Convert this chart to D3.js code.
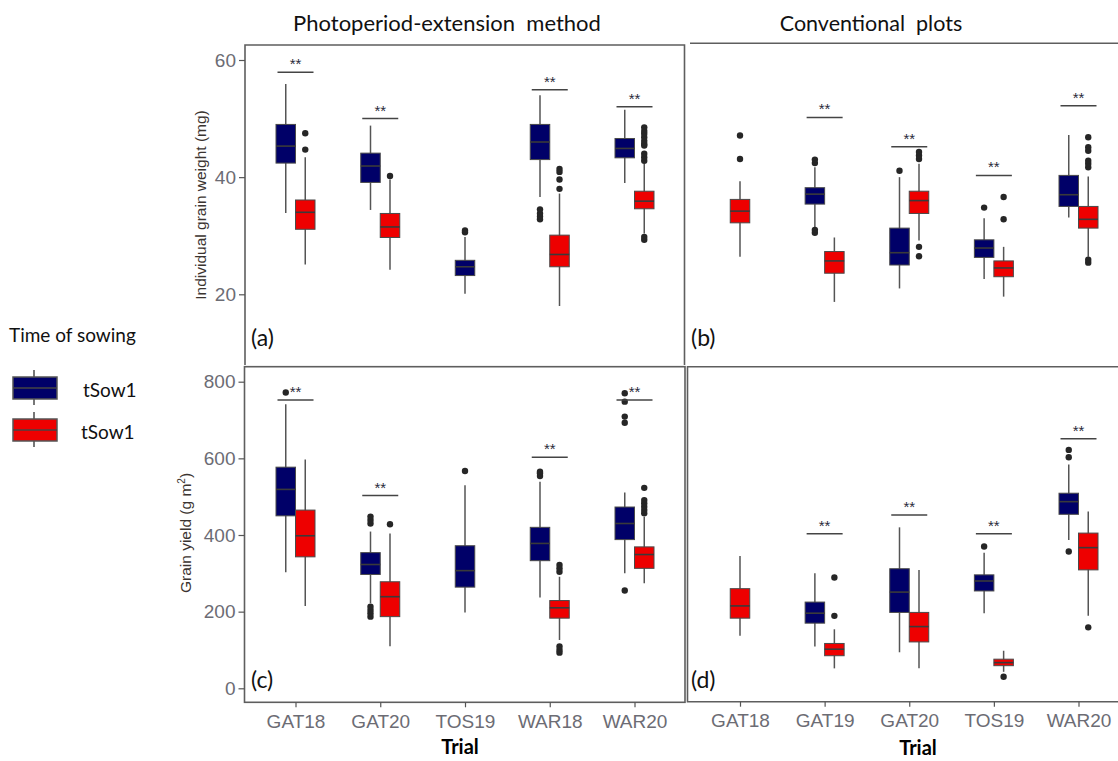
<!DOCTYPE html>
<html>
<head>
<meta charset="utf-8">
<script src="https://cdn.jsdelivr.net/npm/d3@7"></script>
<style>
  body { margin: 0; background: #fff; }
  svg { display: block; }
</style>
</head>
<body>
<svg id="chart"></svg>
<script>
// trials (x categories) for each column
const trialsPE = ["GAT18", "GAT20", "TOS19", "WAR18", "WAR20"];
const trialsConv = ["GAT18", "GAT19", "GAT20", "TOS19", "WAR20"];
const sowLabels = ["tSow1", "tSow1"];
const weightTicks = [20, 40, 60];
const yieldTicks = [0, 200, 400, 600, 800];

// box stats: [trial, sowing, lower whisker, q1, median, q3, upper whisker, outliers]
const weightPE = [
  ["GAT18", 1, 33.9, 42.4, 45.3, 49.0, 55.9, []],
  ["GAT18", 2, 25.1, 31.1, 34.0, 36.1, 43.4, [44.7, 47.5]],
  ["GAT20", 1, 34.4, 39.1, 41.9, 44.1, 48.8, []],
  ["GAT20", 2, 24.2, 29.7, 31.5, 33.8, 39.6, [40.2]],
  ["TOS19", 1, 20.1, 23.2, 24.7, 25.8, 29.8, [30.6, 30.9]],
  ["WAR18", 1, 36.6, 43.0, 46.0, 49.0, 54.0, [32.8, 33.3, 33.8, 34.5]],
  ["WAR18", 2, 18.0, 24.7, 26.8, 30.1, 37.2, [38.0, 39.6, 40.9, 41.4]],
  ["WAR20", 1, 39.0, 43.3, 44.9, 46.6, 51.5, []],
  ["WAR20", 2, 30.4, 34.6, 35.9, 37.6, 42.3, [29.3, 29.8, 42.8, 43.4, 44.0, 45.4, 45.7, 46.2, 46.8, 47.4, 47.9, 48.5]]
];
const weightConv = [
  ["GAT18", 2, 26.4, 32.2, 34.2, 36.2, 39.3, [43.1, 47.1]],
  ["GAT19", 1, 31.5, 35.4, 37.1, 38.2, 41.7, [30.5, 31.0, 42.4, 43.0]],
  ["GAT19", 2, 18.7, 23.6, 25.7, 27.3, 29.7, []],
  ["GAT20", 1, 21.0, 25.0, 27.1, 31.3, 40.0, [41.1]],
  ["GAT20", 2, 29.2, 33.8, 36.0, 37.6, 42.3, [26.5, 28.1, 43.1, 43.7, 44.3]],
  ["TOS19", 1, 22.6, 26.3, 27.9, 29.3, 33.0, [34.8]],
  ["TOS19", 2, 19.6, 23.0, 24.5, 25.7, 28.1, [32.8, 36.6]],
  ["WAR20", 1, 33.1, 35.0, 37.0, 40.3, 47.2, []],
  ["WAR20", 2, 26.4, 31.3, 32.8, 35.0, 40.1, [25.4, 25.9, 41.7, 42.3, 42.8, 44.5, 45.1, 46.8]]
];
const yieldPE = [
  ["GAT18", 1, 303, 450, 519, 577, 741, [772]],
  ["GAT18", 2, 215, 343, 398, 465, 597, []],
  ["GAT20", 1, 222, 297, 323, 354, 409, [187, 196, 204, 213, 430, 439, 448]],
  ["GAT20", 2, 110, 187, 239, 278, 404, [428]],
  ["TOS19", 1, 198, 264, 307, 372, 530, [567]],
  ["WAR18", 1, 237, 333, 378, 420, 539, [554, 561, 565]],
  ["WAR18", 2, 126, 183, 210, 229, 291, [93, 100, 109, 304, 313, 322]],
  ["WAR20", 1, 300, 388, 430, 473, 511, [255, 693, 709, 748, 770]],
  ["WAR20", 2, 274, 313, 349, 369, 448, [457, 465, 474, 483, 491, 523]]
];
const yieldConv = [
  ["GAT18", 2, 137, 183, 215, 260, 345, []],
  ["GAT19", 1, 109, 170, 196, 225, 300, []],
  ["GAT19", 2, 52, 85, 102, 117, 154, [189, 289]],
  ["GAT20", 1, 94, 198, 251, 312, 420, []],
  ["GAT20", 2, 52, 121, 161, 198, 309, []],
  ["TOS19", 1, 196, 254, 280, 296, 354, [370]],
  ["TOS19", 2, 43, 59, 67, 76, 98, [30]],
  ["WAR20", 1, 387, 454, 487, 509, 584, [357, 603, 622]],
  ["WAR20", 2, 189, 309, 367, 405, 461, [159]]
];

// significance bars: [trial, height]
const sigWeightPE = [["GAT18", 57.9], ["GAT20", 50.0], ["WAR18", 54.9], ["WAR20", 52.0]];
const sigWeightConv = [["GAT19", 50.2], ["GAT20", 45.2], ["TOS19", 40.3], ["WAR20", 52.2]];
const sigYieldPE = [["GAT18", 752], ["GAT20", 503], ["WAR18", 603], ["WAR20", 752]];
const sigYieldConv = [["GAT19", 403], ["GAT20", 452], ["TOS19", 403], ["WAR20", 651]];

const width = 1118, height = 761;
const colors = {1: "#000068", 2: "#ee0000"};
const frame = "#5e5e5e";

const svg = d3.select("#chart")
  .attr("width", width)
  .attr("height", height)
  .style("font-family", "'Liberation Sans', Arial, sans-serif");

// scales
const yWeight = d3.scaleLinear().domain([20, 60]).range([294.3, 60]);
const yYield = d3.scaleLinear().domain([0, 800]).range([688.3, 381.7]);
const xLeft = d3.scalePoint().domain(trialsPE).range([295.5, 634.5]);
const xRight = d3.scalePoint().domain(trialsConv).range([740, 1078.5]);
const dodge = d3.scaleBand().domain([1, 2]).range([-19.5, 19.5]);
const boxW = dodge.bandwidth();

function drawBoxes(data, sig, x, y) {
  const g = svg.append("g");
  const counts = d3.rollup(data, v => v.length, d => d[0]);
  const cx = d => x(d[0]) + (counts.get(d[0]) > 1 ? dodge(d[1]) + boxW / 2 : 0);

  const box = g.selectAll("g.box").data(data).join("g").attr("class", "box");
  // whiskers
  box.append("line")
    .attr("x1", cx).attr("x2", cx)
    .attr("y1", d => y(d[2])).attr("y2", d => y(d[6]))
    .attr("stroke", "#555").attr("stroke-width", 1.5);
  box.append("rect")
    .attr("x", d => cx(d) - boxW / 2)
    .attr("width", boxW)
    .attr("y", d => y(d[5]))
    .attr("height", d => y(d[3]) - y(d[5]))
    .attr("fill", d => colors[d[1]])
    .attr("stroke", "#4a4a4a").attr("stroke-width", 1);
  box.append("line")
    .attr("x1", d => cx(d) - boxW / 2).attr("x2", d => cx(d) + boxW / 2)
    .attr("y1", d => y(d[4])).attr("y2", d => y(d[4]))
    .attr("stroke", "#3a3a3a").attr("stroke-width", 1.6);
  box.selectAll("circle")
    .data(d => d[7].map(v => [cx(d), v]))
    .join("circle")
    .attr("cx", d => d[0])
    .attr("cy", d => y(d[1]))
    .attr("r", 3.2)
    .attr("fill", "#262626");

  // significance bars
  const s = g.selectAll("g.sig").data(sig).join("g").attr("class", "sig");
  s.append("line")
    .attr("x1", d => x(d[0]) - 18).attr("x2", d => x(d[0]) + 18)
    .attr("y1", d => y(d[1])).attr("y2", d => y(d[1]))
    .attr("stroke", "#444").attr("stroke-width", 1.5);
  s.append("text")
    .attr("x", d => x(d[0]))
    .attr("y", d => y(d[1]) - 3)
    .attr("text-anchor", "middle")
    .attr("font-size", 15)
    .attr("fill", "#2a2a3a")
    .text("**");
}

function styleAxis(sel) {
  sel.select(".domain").remove();
  sel.selectAll(".tick line").attr("stroke", "#555").attr("stroke-width", 1.2);
  sel.selectAll(".tick text")
    .attr("fill", "#6c6c74")
    .attr("font-size", 19)
    .style("font-family", "'Liberation Sans', Arial, sans-serif");
}

// panel frames
const fr = svg.append("g").attr("fill", "none").attr("stroke", frame).attr("stroke-width", 1.6);
fr.append("path").attr("d", "M245,365 V45 H684.5 V365");
fr.append("rect").attr("x", 244.5).attr("y", 366.7).attr("width", 440.5).attr("height", 335.6);
fr.append("line").attr("x1", 690).attr("x2", width).attr("y1", 43.3).attr("y2", 43.3);
fr.append("path").attr("d", `M${width},366.7 H687.5 V701.7 H${width}`);

// y axes
svg.append("g").attr("transform", "translate(245,0)")
  .call(d3.axisLeft(yWeight).tickValues(weightTicks).tickSize(6).tickPadding(3))
  .call(styleAxis);
svg.append("g").attr("transform", "translate(244.5,0)")
  .call(d3.axisLeft(yYield).tickValues(yieldTicks).tickSize(6).tickPadding(3))
  .call(styleAxis);

// x axes
svg.append("g").attr("transform", "translate(0,702.3)")
  .call(d3.axisBottom(xLeft).tickSize(5).tickPadding(7))
  .call(styleAxis);
svg.append("g").attr("transform", "translate(0,701.7)")
  .call(d3.axisBottom(xRight).tickSize(5).tickPadding(7))
  .call(styleAxis);

drawBoxes(weightPE, sigWeightPE, xLeft, yWeight);
drawBoxes(weightConv, sigWeightConv, xRight, yWeight);
drawBoxes(yieldPE, sigYieldPE, xLeft, yYield);
drawBoxes(yieldConv, sigYieldConv, xRight, yYield);

// titles and labels
const cal = "Lato, 'Open Sans', sans-serif";
svg.append("text").attr("x", 447).attr("y", 31).attr("text-anchor", "middle")
  .attr("font-size", 22).style("font-family", cal).attr("fill", "#111")
  .attr("xml:space", "preserve").text("Photoperiod-extension  method");
svg.append("text").attr("x", 871).attr("y", 31).attr("text-anchor", "middle")
  .attr("font-size", 21.5).style("font-family", cal).attr("fill", "#111")
  .attr("xml:space", "preserve").text("Conventional  plots");

svg.append("text")
  .attr("transform", "translate(206,205) rotate(-90)")
  .attr("text-anchor", "middle").attr("font-size", 15.5).attr("fill", "#3b3430")
  .text("Individual grain weight (mg)");
const yl = svg.append("text")
  .attr("transform", "translate(191,533) rotate(-90)")
  .attr("text-anchor", "middle").attr("font-size", 15.5).attr("fill", "#3b3430");
yl.append("tspan").text("Grain yield (g m");
yl.append("tspan").attr("dy", -6).attr("font-size", 10).text("2");
yl.append("tspan").attr("dy", 6).text(")");

svg.append("text").attr("x", 460).attr("y", 754).attr("text-anchor", "middle")
  .attr("font-size", 20).attr("font-weight", "bold").style("font-family", cal)
  .attr("fill", "#000").text("Trial");
svg.append("text").attr("x", 918).attr("y", 755).attr("text-anchor", "middle")
  .attr("font-size", 20).attr("font-weight", "bold").style("font-family", cal)
  .attr("fill", "#000").text("Trial");

// panel letters
const letters = [["(a)", 251, 346], ["(b)", 691, 346], ["(c)", 251, 688], ["(d)", 691, 688]];
svg.selectAll("text.letter").data(letters).join("text")
  .attr("class", "letter")
  .attr("x", d => d[1]).attr("y", d => d[2])
  .attr("font-size", 23).style("font-family", cal).attr("fill", "#111")
  .text(d => d[0]);

// legend
const leg = svg.append("g");
leg.append("text").attr("x", 9).attr("y", 342)
  .attr("font-size", 19).style("font-family", cal).attr("fill", "#111")
  .text("Time of sowing");
const keys = leg.selectAll("g.key").data(sowLabels).join("g").attr("class", "key")
  .attr("transform", (d, i) => `translate(0,${i === 0 ? 388 : 430})`);
keys.append("line").attr("x1", 34).attr("x2", 34).attr("y1", -18).attr("y2", 17)
  .attr("stroke", "#555").attr("stroke-width", 1.6);
keys.append("rect").attr("x", 13).attr("y", -11).attr("width", 44).attr("height", 22)
  .attr("fill", (d, i) => colors[i + 1]).attr("stroke", "#555").attr("stroke-width", 1.5);
keys.append("line").attr("x1", 13).attr("x2", 57).attr("y1", 0).attr("y2", 0)
  .attr("stroke", "#444").attr("stroke-width", 1.6);
keys.append("text").attr("x", (d, i) => i === 0 ? 83 : 81).attr("y", 9)
  .attr("font-size", 19).style("font-family", cal).attr("fill", "#111")
  .text(d => d);
</script>
</body>
</html>
